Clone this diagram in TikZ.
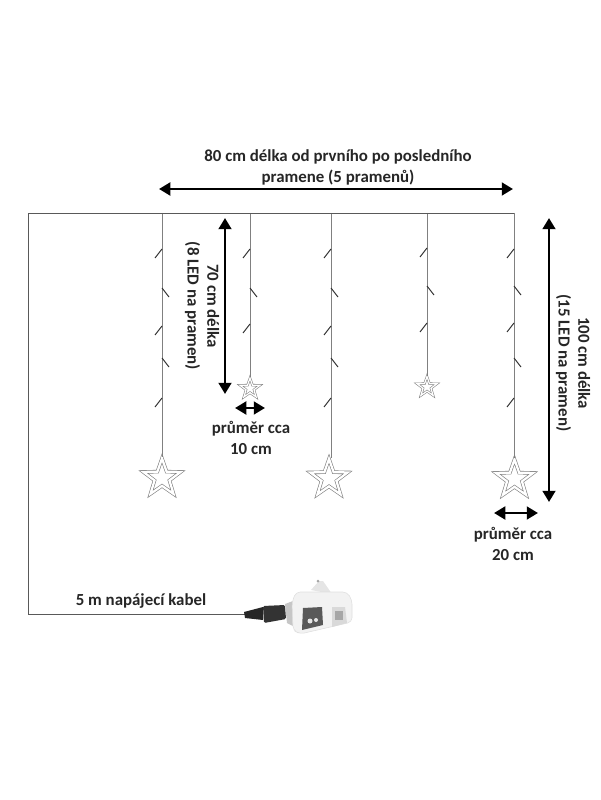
\documentclass[tikz,border=0pt]{standalone}
\usepackage{fontspec}
\setmainfont{Carlito}
\usetikzlibrary{arrows.meta,shapes.geometric}
\definecolor{wirecol}{gray}{0.5}
\definecolor{starcol}{gray}{0.5}
\newcommand\ledl[2]{\draw[ledtick] (#1,#2-4) -- (#1-7,#2+5);}
\newcommand\ledr[2]{\draw[ledtick] (#1,#2-5) -- (#1+7,#2+4);}
\tikzset{
  wire/.style={draw=wirecol, line width=0.6pt},
  ledtick/.style={draw=black!80, line width=0.7pt},
  dimarrow/.style={{Triangle[length=8pt,width=9pt]}-{Triangle[length=8pt,width=9pt]}, line width=2pt, black},
  dimtext/.style={font=\bfseries\fontsize{12pt}{14pt}\selectfont, text=black!85, inner sep=0pt, align=center},
  bigstar/.style={star, star points=5, star point ratio=2.5, minimum size=0.98cm, inner sep=0pt, draw=starcol, double=white, double distance=1.6pt, line width=0.45pt},
  smallstar/.style={star, star points=5, star point ratio=2.5, minimum size=0.52cm, inner sep=0pt, draw=starcol, double=white, double distance=0.9pt, line width=0.4pt}
}
\begin{document}
\begin{tikzpicture}[x=0.025cm,y=-0.025cm]
\useasboundingbox (0,0) rectangle (600,800);
% stars
\node[bigstar] (stara) at (162,478) {};
\node[smallstar] (starb) at (250,388.5) {};
\node[bigstar] (starc) at (329,478.5) {};
\node[smallstar] (stard) at (427,387) {};
\node[bigstar] (stare) at (514.5,479) {};
% wires
\coordinate (corner) at (28,213);
\coordinate (plugend) at (245,614);
\foreach \nm/\xx in {a/162,b/250,c/331,d/427,e/514} {
  \coordinate (top\nm) at (\xx,213);
  \draw[wire] (top\nm) -- (\xx,213 |- star\nm.outer point 1);
}
\draw[draw=black!65, line width=0.6pt] (plugend) -- (28,614) -- (corner) -- (tope);
% leds
\foreach \xx in {162,331} {\ledl{\xx}{253} \ledr{\xx}{293} \ledl{\xx}{330} \ledr{\xx}{363} \ledl{\xx}{402}}
\ledl{250}{253} \ledr{250}{293} \ledl{250}{328}
\ledl{427}{252} \ledr{427}{291} \ledl{427}{327}
\ledl{514}{253} \ledr{514}{291} \ledl{514}{327} \ledr{514}{363} \ledl{514}{402}
% dimensions
\coordinate (wl) at (159,189); \coordinate (wr) at (513,189);
\coordinate (ha) at (225,218); \coordinate (hb) at (225,394);
\coordinate (ka) at (549,218); \coordinate (kb) at (549,502);
\coordinate (da) at (235,408); \coordinate (db) at (265,408);
\coordinate (ea) at (494,513); \coordinate (eb) at (538,513);
\draw[dimarrow] (wl) -- (wr);
\draw[dimarrow] (ha) -- (hb);
\draw[dimarrow] (ka) -- (kb);
\draw[dimarrow] (da) -- (db);
\draw[dimarrow] (ea) -- (eb);
% texts
\node[dimtext] (tw) at (338,167) {80 cm délka od prvního po posledního\\[1pt]pramene (5 pramenů)};
\node[dimtext, rotate=-90] (tha) at (202,306) {70 cm délka\\(8 LED na pramen)};
\node[dimtext, rotate=-90] (tka) at (573,363) {100 cm délka\\(15 LED na pramen)};
\node[dimtext] (tda) at (251,438) {průměr cca\\[1pt]10 cm};
\node[dimtext] (tea) at (513,544) {průměr cca\\[1pt]20 cm};
\node[dimtext] (tkab) at (141,601) {5 m napájecí kabel};
% adapter
\fill[black!85] (244,612) -- (263,607) -- (263,620) -- (245,618) -- cycle;
\fill[black!80, rounded corners=1pt] (263,606) -- (285,605) -- (286,619) -- (264,623) -- cycle;
\fill[gray!45] (285,604) -- (293,601) -- (295,627) -- (287,623) -- cycle;
\fill[gray!20] (311,590) -- (319,581) -- (323,581) -- (332,594) -- cycle;
\fill[gray!70] (318,581) circle (1.5);
\fill[gray!10, draw=gray!25, rounded corners=3pt] (296,592) -- (347,592) -- (352,600) -- (352,622) -- (300,634) -- (293,630) -- (292,602) -- cycle;
\fill[black!65] (303,608) -- (322,607) -- (323,625) -- (302,630) -- cycle;
\fill[white!80!gray] (310,621) circle (2.5);
\fill[white!80!gray] (316,620) circle (2);
\fill[gray!30] (332,607) -- (345,607) -- (347,623) -- (332,627) -- cycle;
\fill[gray!70] (335,611) rectangle (343,620);
\end{tikzpicture}
\end{document}
